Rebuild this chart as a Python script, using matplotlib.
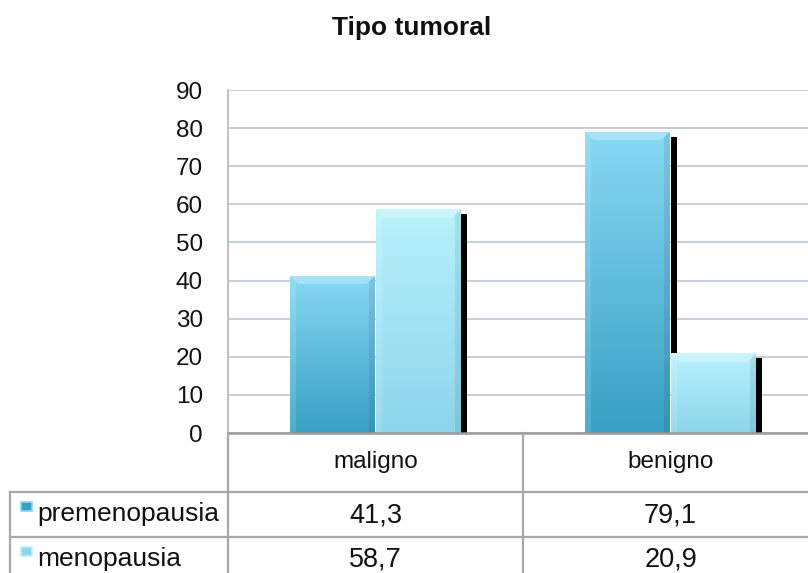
import numpy as np
import matplotlib
matplotlib.use("Agg")
import matplotlib.pyplot as plt
from matplotlib.lines import Line2D
from matplotlib.patches import Rectangle
from matplotlib.colors import to_rgb
import matplotlib.transforms as mtrans

plt.rcParams['font.family'] = ['Liberation Sans', 'DejaVu Sans']

# datos
categorias = ['maligno', 'benigno']
series = ['premenopausia', 'menopausia']
premenopausia = [41.3, 79.1]
menopausia = [58.7, 20.9]
etiquetas = ['41,3', '79,1']
etiquetas2 = ['58,7', '20,9']
yticks = [0, 10, 20, 30, 40, 50, 60, 70, 80, 90]

W, H = 808, 573
fig = plt.figure(figsize=(W / 100, H / 100), dpi=100)


def fx(px):
    return px / W


def fy(py):
    return 1 - py / H


# area del grafico (el borde derecho queda fuera del lienzo)
ax = fig.add_axes([fx(228), fy(433), fx(590), 343 / H])
ax.set_xlim(0, 2)
ax.set_ylim(0, 90)

px_x = 590 / 2.0     # pixeles por categoria
px_y = 343 / 90.0    # pixeles por unidad

ax.set_yticks(yticks)
ax.set_xticks([])
ax.tick_params(axis='y', length=0, labelsize=17.5, pad=18, labelcolor='#111111')
ax.yaxis.grid(True, color='#c3cbdc', lw=1.3)
ax.set_axisbelow(True)
for s in ['top', 'right']:
    ax.spines[s].set_visible(False)
ax.spines['left'].set_color('#b4b8c2')
ax.spines['left'].set_linewidth(1.2)
ax.spines['bottom'].set_color('#9a9a9a')
ax.spines['bottom'].set_linewidth(1.8)
ax.spines['bottom'].set_zorder(6)

x = np.arange(len(categorias)) + 0.5
bw = 85 / px_x

colores = {
    'premenopausia': ('#38a0c4', '#88d8f3'),
    'menopausia': ('#8dd5eb', '#b8f2fc'),
}


def imagen_barra(h_px, w_px, c_bot, c_top):
    c_bot = np.array(to_rgb(c_bot))
    c_top = np.array(to_rgb(c_top))
    t = np.linspace(0, 1, h_px)[:, None, None]
    img = c_bot * (1 - t) + c_top * t
    img = np.repeat(img, w_px, axis=1)
    fila = np.arange(h_px)[:, None]
    d_top = (h_px - 1) - fila
    col = np.arange(w_px)[None, :]
    d_l = col
    d_r = w_px - 1 - col
    bisel = 9
    m_top = (d_top < bisel) & (d_top <= d_l) & (d_top <= d_r)
    m_l = (d_l < 6) & (d_l < d_top) & (d_l <= d_r)
    m_r = (d_r < 6) & (d_r < d_top) & (d_r < d_l)
    blanco = np.ones(3)
    img[m_top] = img[m_top] * 0.72 + blanco * 0.28
    img[m_l] = img[m_l] * 0.88 + blanco * 0.12
    img[m_r] = img[m_r] * 0.92
    return img


# sombras negras a la derecha de cada barra
# (la de premenopausia solo asoma por encima de la barra de menopausia)
dx = 6 / px_x
dy = 5 / px_y
pre = np.array(premenopausia)
meno = np.array(menopausia)
base_pre = np.minimum(meno, pre - dy)
ax.bar(x, pre - dy - base_pre, bottom=base_pre, width=dx,
       align='edge', color='black', lw=0, zorder=2)
ax.bar(x + bw, meno - dy, width=dx, align='edge', color='black', lw=0, zorder=2)

for off, vals, nombre in [(-bw / 2, premenopausia, 'premenopausia'),
                          (bw / 2, menopausia, 'menopausia')]:
    barras = ax.bar(x + off, vals, width=bw, color=colores[nombre][1], lw=0, zorder=3)
    for b in barras:
        x0, w, h = b.get_x(), b.get_width(), b.get_height()
        img = imagen_barra(max(int(h * px_y), 2), max(int(w * px_x), 2), *colores[nombre])
        im = ax.imshow(img, extent=(x0, x0 + w, 0, h), origin='lower',
                       aspect='auto', zorder=3, interpolation='bilinear')
        im.set_clip_path(b)

ax.set_xlim(0, 2)
ax.set_ylim(0, 90)

# tabla de datos debajo del grafico
gris = '#a8a8a8'
lineas = [
    ((10, 808), (492, 492)),
    ((10, 808), (537, 537)),
    ((10, 10), (492, 573)),
    ((228, 228), (433, 573)),
]
for xs, ys in lineas:
    fig.add_artist(Line2D([fx(xs[0]), fx(xs[1])], [fy(ys[0]), fy(ys[1])],
                          color=gris, lw=1.6, transform=fig.transFigure))

# separadores de columnas en coordenadas de datos
mezcla = mtrans.blended_transform_factory(ax.transData, fig.transFigure)
for xc in [1.0]:
    fig.add_artist(Line2D([xc, xc], [fy(433), fy(573)], color=gris, lw=1.6,
                          transform=mezcla))

for xi, cat in zip(x, categorias):
    fig.text(xi, fy(462), cat, transform=mezcla, ha='center', va='center',
             fontsize=17.5, color='#111111')
for xi, t in zip(x, etiquetas):
    fig.text(xi, fy(515), t, transform=mezcla, ha='center', va='center',
             fontsize=19.5, color='#111111')
for xi, t in zip(x, etiquetas2):
    fig.text(xi, fy(560), t, transform=mezcla, ha='center', va='center',
             fontsize=19.5, color='#111111')

# leyenda dentro de la tabla
for yc, nombre in [(514, 'premenopausia'), (559, 'menopausia')]:
    c_bot, c_top = colores[nombre]
    fig.add_artist(Rectangle((fx(21), fy(yc - 3)), fx(11), 9 / H,
                             facecolor=c_bot, edgecolor=c_top, lw=1.2,
                             transform=fig.transFigure))
    fig.text(fx(37), fy(yc), nombre, ha='left', va='center', fontsize=19,
             color='#111111')

fig.text(fx(412), fy(28), 'Tipo tumoral', ha='center', va='center',
         fontsize=19, fontweight='bold', color='#111111')

fig.savefig('out.png', dpi=100)
